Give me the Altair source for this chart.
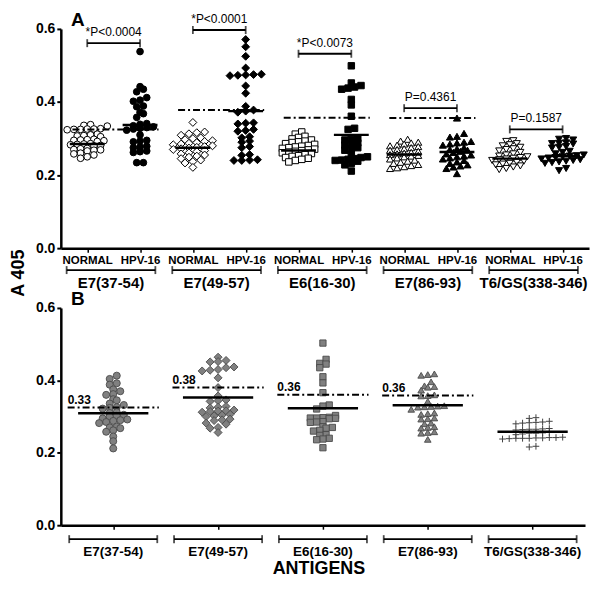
import altair as alt
import pandas as pd

FONT = "Arial"

groups = ["E7(37-54)", "E7(49-57)", "E6(16-30)", "E7(86-93)", "T6/GS(338-346)"]
conditions = ["NORMAL", "HPV-16"]

# ---------------- Panel A values (A 405) ----------------
a_e7_37_normal = [0.338, 0.336, 0.334, 0.327, 0.326, 0.326, 0.325, 0.325, 0.324,
                  0.312, 0.310, 0.308, 0.307, 0.305, 0.298, 0.297, 0.296, 0.295,
                  0.294, 0.292, 0.286, 0.285, 0.284, 0.283, 0.281, 0.280, 0.273,
                  0.272, 0.270, 0.269, 0.268, 0.266, 0.260, 0.258, 0.255, 0.250, 0.246]
a_e7_37_hpv = [0.538, 0.442, 0.435, 0.428, 0.412, 0.405, 0.402, 0.389, 0.387, 0.372,
               0.368, 0.358, 0.341, 0.339, 0.335, 0.332, 0.330, 0.328, 0.326, 0.323,
               0.310, 0.295, 0.293, 0.291, 0.279, 0.277, 0.275, 0.266, 0.264, 0.262,
               0.234, 0.234]
a_e7_49_normal = [0.344, 0.318, 0.316, 0.313, 0.309, 0.302, 0.300, 0.297, 0.294, 0.292,
                  0.289, 0.287, 0.285, 0.283, 0.280, 0.278, 0.276, 0.274, 0.272, 0.270,
                  0.267, 0.264, 0.261, 0.258, 0.255, 0.252, 0.249, 0.245, 0.241, 0.237,
                  0.233, 0.221]
a_e7_49_hpv = [0.571, 0.551, 0.525, 0.493, 0.476, 0.475, 0.474, 0.473, 0.472, 0.444,
               0.424, 0.388, 0.378, 0.375, 0.372, 0.343, 0.342, 0.340, 0.325, 0.322,
               0.320, 0.305, 0.302, 0.293, 0.290, 0.278, 0.275, 0.256, 0.254, 0.242,
               0.241, 0.240, 0.240]
a_e6_normal = [0.318, 0.312, 0.306, 0.303, 0.299, 0.296, 0.293, 0.291, 0.289, 0.286,
               0.284, 0.281, 0.279, 0.277, 0.275, 0.273, 0.271, 0.269, 0.267, 0.265,
               0.263, 0.261, 0.259, 0.256, 0.253, 0.251, 0.248, 0.246, 0.243, 0.240, 0.236]
a_e6_hpv = [0.499, 0.452, 0.445, 0.441, 0.438, 0.435, 0.407, 0.392, 0.361, 0.328,
            0.325, 0.300, 0.298, 0.296, 0.288, 0.285, 0.282, 0.275, 0.272, 0.268,
            0.255, 0.250, 0.248, 0.245, 0.243, 0.241, 0.240, 0.238, 0.232, 0.228, 0.211]
a_e7_86_normal = [0.298, 0.293, 0.290, 0.288, 0.285, 0.282, 0.280, 0.278, 0.275, 0.272,
                  0.270, 0.268, 0.265, 0.262, 0.260, 0.258, 0.256, 0.254, 0.252, 0.250,
                  0.247, 0.244, 0.241, 0.238, 0.235, 0.232, 0.229, 0.226, 0.223, 0.220, 0.218]
a_e7_86_hpv = [0.356, 0.314, 0.306, 0.304, 0.292, 0.290, 0.288, 0.285, 0.282, 0.275,
               0.272, 0.270, 0.268, 0.265, 0.262, 0.258, 0.255, 0.252, 0.250, 0.247,
               0.244, 0.240, 0.236, 0.232, 0.228, 0.225, 0.222, 0.218, 0.204]
a_t6_normal = [0.294, 0.292, 0.286, 0.283, 0.280, 0.276, 0.272, 0.270, 0.266, 0.262,
               0.258, 0.255, 0.252, 0.250, 0.248, 0.246, 0.244, 0.242, 0.240, 0.238,
               0.235, 0.232, 0.230, 0.228, 0.225, 0.222, 0.218, 0.215]
a_t6_hpv = [0.300, 0.298, 0.296, 0.288, 0.287, 0.286, 0.285, 0.278, 0.276, 0.274,
            0.265, 0.262, 0.258, 0.255, 0.253, 0.252, 0.250, 0.248, 0.246, 0.244,
            0.242, 0.240, 0.238, 0.236, 0.234, 0.232, 0.218, 0.212]

a_centres = [0.285, 0.337, 0.275, 0.375, 0.267, 0.310, 0.256, 0.263, 0.245, 0.252]
a_cutoffs = [0.325, 0.378, 0.357, 0.356]
p_texts = ["*P<0.0004", "*P<0.0001", "*P<0.0073", "P=0.4361", "P=0.1587"]
p_levels = [0.561, 0.597, 0.532, 0.383, 0.325]

# ---------------- Panel B values ----------------
b_e7_37 = [0.413, 0.404, 0.392, 0.388, 0.375, 0.370, 0.362, 0.360, 0.348, 0.345,
           0.336, 0.332, 0.326, 0.324, 0.322, 0.312, 0.310, 0.305, 0.302, 0.300,
           0.295, 0.292, 0.290, 0.288, 0.285, 0.282, 0.272, 0.270, 0.268, 0.262,
           0.258, 0.245, 0.232, 0.212]
b_e7_49 = [0.464, 0.455, 0.452, 0.451, 0.437, 0.435, 0.430, 0.428, 0.426, 0.407,
           0.380, 0.357, 0.346, 0.344, 0.342, 0.328, 0.326, 0.324, 0.318, 0.316,
           0.315, 0.314, 0.312, 0.306, 0.304, 0.302, 0.300, 0.293, 0.291, 0.289,
           0.282, 0.279, 0.270, 0.268, 0.256]
b_e6 = [0.503, 0.458, 0.447, 0.445, 0.435, 0.410, 0.393, 0.366, 0.332, 0.329,
        0.321, 0.303, 0.298, 0.297, 0.296, 0.296, 0.295, 0.294, 0.286, 0.285,
        0.284, 0.272, 0.270, 0.268, 0.262, 0.260, 0.250, 0.248, 0.240, 0.238,
        0.236, 0.214]
b_e7_86 = [0.418, 0.416, 0.414, 0.396, 0.385, 0.383, 0.381, 0.373, 0.360, 0.358,
           0.357, 0.342, 0.330, 0.329, 0.328, 0.327, 0.326, 0.320, 0.310, 0.308,
           0.306, 0.296, 0.294, 0.293, 0.282, 0.280, 0.272, 0.270, 0.268, 0.258,
           0.256, 0.254, 0.237]
b_t6 = [0.297, 0.295, 0.287, 0.285, 0.284, 0.283, 0.282, 0.280, 0.267, 0.266,
        0.265, 0.265, 0.264, 0.263, 0.256, 0.255, 0.254, 0.254, 0.252, 0.250,
        0.243, 0.242, 0.242, 0.241, 0.241, 0.240, 0.240, 0.240, 0.239, 0.238,
        0.218, 0.216]

b_centres = [0.309, 0.353, 0.323, 0.331, 0.258]
b_cutoffs = [0.325, 0.380, 0.360, 0.358]
b_cutoff_labels = ["0.33", "0.38", "0.36", "0.36"]

# ---------------- styles / layout ----------------
A_W, A_H = 530, 220
B_W, B_H = 526, 218
a_shapes = ["circle", "diamond", "square", "triangle-up", "triangle-down"]
a_sizes = [45, 62, 42, 50, 50]
b_sizes = [50, 64, 40, 44, 45]
CROSS = "M-1,0H1M0,-1V1"


def row_layout(vals, diam, ppv, ppu, row_h=4.3, gap=1.0):
    """GraphPad-like scatter: values grouped greedily into rows, spread sideways."""
    order = sorted(range(len(vals)), key=lambda i: vals[i])
    rows_, cur, start = [], [], None
    for i in order:
        y = vals[i] * ppv
        if start is None or y - start > row_h:
            if cur:
                rows_.append(cur)
            cur, start = [i], y
        else:
            cur.append(i)
    if cur:
        rows_.append(cur)
    offs = [0.0] * len(vals)
    for r in rows_:
        n = len(r)
        for j, i in enumerate(r):
            offs[i] = (j - (n - 1) / 2.0) * diam * gap / ppu
    return offs


a_sets = [(a_e7_37_normal, a_e7_37_hpv), (a_e7_49_normal, a_e7_49_hpv),
          (a_e6_normal, a_e6_hpv), (a_e7_86_normal, a_e7_86_hpv), (a_t6_normal, a_t6_hpv)]
rows = []
for g, name in enumerate(groups):
    for c, cond in enumerate(conditions):
        vals = a_sets[g][c]
        offs = row_layout(vals, a_sizes[g] ** 0.5, A_H / 0.6, A_W / 10)
        for v, o in zip(vals, offs):
            rows.append(dict(x=2 * g + c + o, y=v, shape=a_shapes[g], size=a_sizes[g],
                             fill="white" if c == 0 else "black"))
df_a = pd.DataFrame(rows)

b_sets = [b_e7_37, b_e7_49, b_e6, b_e7_86, b_t6]
rows = []
for g, vals in enumerate(b_sets):
    offs = row_layout(vals, b_sizes[g] ** 0.5, B_H / 0.6, B_W / 5)
    for v, o in zip(vals, offs):
        rows.append(dict(x=g + o, y=v, shape=(a_shapes[g] if g < 4 else CROSS), size=b_sizes[g],
                         cross=(g == 4)))
df_b = pd.DataFrame(rows)

xa = alt.Scale(domain=[-0.5, 9.5], nice=False, zero=False)
xb = alt.Scale(domain=[-0.5, 4.5], nice=False, zero=False)
ys = alt.Scale(domain=[0, 0.6], nice=False)

common_axis = dict(title=None, grid=False, labelFont=FONT, labelFontWeight="bold",
                   labelColor="black", tickColor="black", domainColor="black",
                   domainWidth=2.5, labelFlush=False, labelOverlap=False)
axis_y = alt.Axis(values=[0, 0.2, 0.4, 0.6], format=".1f", labelFontSize=14,
                  labelPadding=2, tickSize=4, tickWidth=2, **common_axis)
axis_xa = alt.Axis(values=list(range(10)),
                   labelExpr="datum.value % 2 == 0 ? 'NORMAL' : 'HPV-16'",
                   labelFontSize=11.5, labelPadding=2, tickSize=4, tickWidth=1.5, **common_axis)
axis_xb = alt.Axis(values=list(range(5)), labels=False, tickSize=4, tickWidth=1.5, **common_axis)


def XA(f):
    return alt.X(f, type="quantitative", scale=xa, title=None)


def XB(f):
    return alt.X(f, type="quantitative", scale=xb, title=None)


def Y(f):
    return alt.Y(f, type="quantitative", scale=ys, title=None)


def txt(s, x, y, size, bold=True, angle=0):
    kw = dict(font=FONT, fontSize=size, fontWeight="bold" if bold else "normal",
              color="black", align="center", baseline="middle")
    if angle:
        kw["angle"] = angle
    return alt.Chart(pd.DataFrame({"t": [s]})).mark_text(**kw).encode(
        text="t:N", x=alt.value(x), y=alt.value(y))


# ---------------- Panel A ----------------
pts_a = alt.Chart(df_a).mark_point(filled=True, stroke="black", strokeWidth=1, opacity=1).encode(
    x=alt.X("x:Q", scale=xa, axis=axis_xa),
    y=alt.Y("y:Q", scale=ys, axis=axis_y),
    shape=alt.Shape("shape:N", scale=None),
    size=alt.Size("size:Q", scale=None),
    fill=alt.Fill("fill:N", scale=None),
)

cen_a = pd.DataFrame({"pos": list(range(10)), "v": a_centres})
cen_a["x1"] = cen_a["pos"] - 0.33
cen_a["x2"] = cen_a["pos"] + 0.33
cen_a_l = alt.Chart(cen_a).mark_rule(color="black", strokeWidth=2.5).encode(
    x=XA("x1"), x2="x2:Q", y=Y("v"))

cut_a = pd.DataFrame({"g": list(range(4)), "v": a_cutoffs})
cut_a["x1"] = 2 * cut_a["g"] - 0.28
cut_a["x2"] = 2 * cut_a["g"] + 1.35
cut_a_l = alt.Chart(cut_a).mark_rule(color="black", strokeWidth=2, strokeDash=[7, 3, 2, 3]).encode(
    x=XA("x1"), x2="x2:Q", y=Y("v"))

pb = pd.DataFrame({"g": list(range(5)), "v": p_levels, "t": p_texts})
pb["x1"] = 2 * pb["g"]
pb["x2"] = 2 * pb["g"] + 1
pb["mid"] = 2 * pb["g"] + 0.5
pb_rule = alt.Chart(pb).mark_rule(color="black", strokeWidth=1.8).encode(
    x=XA("x1"), x2="x2:Q", y=Y("v"))
pb_caps_df = pd.concat([pb[["x1", "v"]].rename(columns={"x1": "x"}),
                        pb[["x2", "v"]].rename(columns={"x2": "x"})])
pb_caps = alt.Chart(pb_caps_df).mark_tick(orient="vertical", size=8, thickness=1.8, color="black").encode(
    x=XA("x"), y=Y("v"))
pb_text = alt.Chart(pb).mark_text(font=FONT, fontSize=12, color="black", dy=-11).encode(
    x=XA("mid"), y=Y("v"), text="t:N")

gb_a = pd.DataFrame({"g": list(range(5)), "name": groups})
gb_a["mid"] = 2 * gb_a["g"] + 0.45
gb_a["x1"] = gb_a["mid"] - 0.84
gb_a["x2"] = gb_a["mid"] + 0.84
gb_a_rule = alt.Chart(gb_a).mark_rule(color="black", strokeWidth=1.8).encode(
    x=XA("x1"), x2="x2:Q", y=alt.value(A_H + 22))
gb_a_caps_df = pd.concat([gb_a[["x1"]].rename(columns={"x1": "x"}),
                          gb_a[["x2"]].rename(columns={"x2": "x"})])
gb_a_caps = alt.Chart(gb_a_caps_df).mark_tick(orient="vertical", size=8, thickness=1.8, color="black").encode(
    x=XA("x"), y=alt.value(A_H + 22))
gb_a_text = alt.Chart(gb_a).mark_text(font=FONT, fontSize=15, fontWeight="bold", color="black").encode(
    x=XA("mid"), y=alt.value(A_H + 35), text="name:N")

panel_a = alt.layer(
    pts_a, cen_a_l, cut_a_l, pb_rule, pb_caps, pb_text, gb_a_rule, gb_a_caps, gb_a_text,
    txt("A", 17, -9, 19),
    txt("A 405", -42, A_H + 25, 18, angle=270),
).properties(width=A_W, height=A_H)

# ---------------- Panel B ----------------
pts_b = alt.Chart(df_b[~df_b["cross"]]).mark_point(
    filled=True, fill="#808080", stroke="#4a4a4a", strokeWidth=0.9, opacity=1).encode(
    x=alt.X("x:Q", scale=xb, axis=axis_xb),
    y=alt.Y("y:Q", scale=ys, axis=axis_y),
    shape=alt.Shape("shape:N", scale=None),
    size=alt.Size("size:Q", scale=None),
)
pts_bx = alt.Chart(df_b[df_b["cross"]]).mark_point(
    filled=False, stroke="#404040", strokeWidth=1, opacity=1).encode(
    x=XB("x"), y=Y("y"),
    shape=alt.Shape("shape:N", scale=None),
    size=alt.Size("size:Q", scale=None),
)

cen_b = pd.DataFrame({"pos": list(range(5)), "v": b_centres})
cen_b["x1"] = cen_b["pos"] - 0.335
cen_b["x2"] = cen_b["pos"] + 0.335
cen_b_l = alt.Chart(cen_b).mark_rule(color="black", strokeWidth=2.5).encode(
    x=XB("x1"), x2="x2:Q", y=Y("v"))

cut_b = pd.DataFrame({"g": list(range(4)), "v": b_cutoffs, "t": b_cutoff_labels})
cut_b["x1"] = cut_b["g"] - 0.435
cut_b["x2"] = cut_b["g"] + 0.435
cut_b_l = alt.Chart(cut_b).mark_rule(color="black", strokeWidth=2, strokeDash=[7, 3, 2, 3]).encode(
    x=XB("x1"), x2="x2:Q", y=Y("v"))
cut_b_t = alt.Chart(cut_b).mark_text(font=FONT, fontSize=12, fontWeight="bold", color="black",
                                     align="left", dy=-8).encode(
    x=XB("x1"), y=Y("v"), text="t:N")

gb_b = pd.DataFrame({"g": list(range(5)), "name": groups})
gb_b["x1"] = gb_b["g"] - 0.42
gb_b["x2"] = gb_b["g"] + 0.42
gb_b_rule = alt.Chart(gb_b).mark_rule(color="black", strokeWidth=1.8).encode(
    x=XB("x1"), x2="x2:Q", y=alt.value(B_H + 14))
gb_b_caps_df = pd.concat([gb_b[["x1"]].rename(columns={"x1": "x"}),
                          gb_b[["x2"]].rename(columns={"x2": "x"})])
gb_b_caps = alt.Chart(gb_b_caps_df).mark_tick(orient="vertical", size=8, thickness=1.8, color="black").encode(
    x=XB("x"), y=alt.value(B_H + 14))
gb_b_text = alt.Chart(gb_b).mark_text(font=FONT, fontSize=13.5, fontWeight="bold", color="black").encode(
    x=XB("g"), y=alt.value(B_H + 27), text="name:N")

panel_b = alt.layer(
    pts_b, pts_bx, cen_b_l, cut_b_l, cut_b_t, gb_b_rule, gb_b_caps, gb_b_text,
    txt("B", 17, -9, 19),
    txt("ANTIGENS", B_W / 2 - 4, B_H + 44, 18),
).properties(width=B_W, height=B_H)

chart = alt.vconcat(panel_a, panel_b, spacing=60, bounds="flush",
                    padding={"left": 2, "top": 2, "right": 2, "bottom": 0},
                    background="white").configure_view(stroke=None)

chart.save("out.html", embed_options={"renderer": "svg", "actions": False})
